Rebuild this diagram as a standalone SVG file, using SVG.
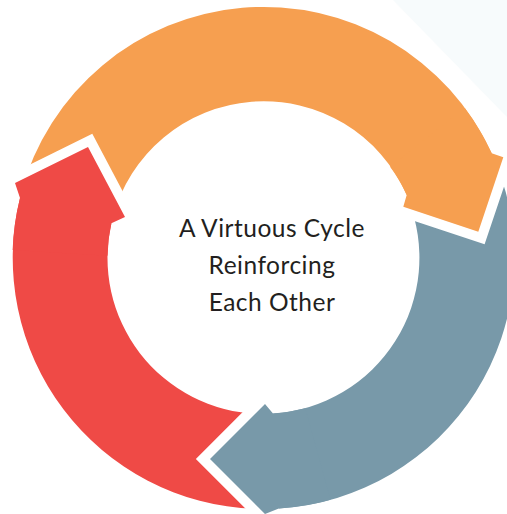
<svg xmlns="http://www.w3.org/2000/svg" width="507" height="514" viewBox="0 0 507 514">
  <style>
    .orange { fill: #F69F50; }
    .blue { fill: #7899A9; }
    .red { fill: #EF4A46; }
    .gap { fill: none; stroke: #FFFFFF; stroke-width: 20; stroke-linejoin: miter; stroke-miterlimit: 10; }
    .label { font-family: Lato, "Liberation Sans", sans-serif; font-size: 24.5px; letter-spacing: 0.5px; fill: #231F20; text-anchor: middle; }
  </style>
  <rect width="507" height="514" fill="#FFFFFF"/>
  <polygon points="393,0 507,0 507,117" fill="#F7FBFC"/>

  <g id="connectors">
    <!-- arrow bodies -->
    <path class="orange" d="M 21.05 193.04 A 251 251 0 0 1 491.7 153.3 L 503.3 157.3 L 478.3 231.7 L 403.3 206.7 L 406.7 195 A 156 156 0 0 0 112.81 217.62 Z"/>
    <path class="blue" d="M 496.22 163.97 A 251 251 0 0 1 278.8 508.5 L 265 514 L 210 459 L 265 404 L 273 413.5 A 156 156 0 0 0 408.14 199.56 Z"/>
    <path class="red" d="M 254.74 508.85 A 251 251 0 0 1 20 198 L 15 183 L 88 147 L 125 217 L 111.4 223.3 A 156 156 0 0 0 258.06 413.9 Z"/>
  </g>

  <g id="arrowhead-orange">
    <path class="gap" d="M 491.7 153.3 L 503.3 157.3 L 478.3 231.7 L 403.3 206.7 L 406.7 195"/>
    <path class="orange" d="M 464.83 108.11 A 251 251 0 0 1 491.7 153.3 L 503.3 157.3 L 478.3 231.7 L 403.3 206.7 L 406.7 195 A 156 156 0 0 0 390.1 166.86 Z"/>
  </g>
  <g id="arrowhead-blue">
    <path class="gap" d="M 278.8 508.5 L 265 514 L 210 459 L 265 404 L 273 413.5"/>
    <path class="blue" d="M 330.58 499.87 A 251 251 0 0 1 278.8 508.5 L 265 514 L 210 459 L 265 404 L 273 413.5 A 156 156 0 0 0 305.27 408.3 Z"/>
  </g>
  <g id="arrowhead-red">
    <path class="gap" d="M 20 198 L 15 183 L 88 147 L 125 217 L 111.4 223.3"/>
    <path class="red" d="M 12.62 250.12 A 251 251 0 0 1 20 198 L 15 183 L 88 147 L 125 217 L 111.4 223.3 A 156 156 0 0 0 107.52 255.69 Z"/>
  </g>

  <g id="center-label">
    <text class="label" x="272" y="237.3">A Virtuous Cycle</text>
    <text class="label" x="272" y="274">Reinforcing</text>
    <text class="label" x="272" y="311">Each Other</text>
  </g>
</svg>
